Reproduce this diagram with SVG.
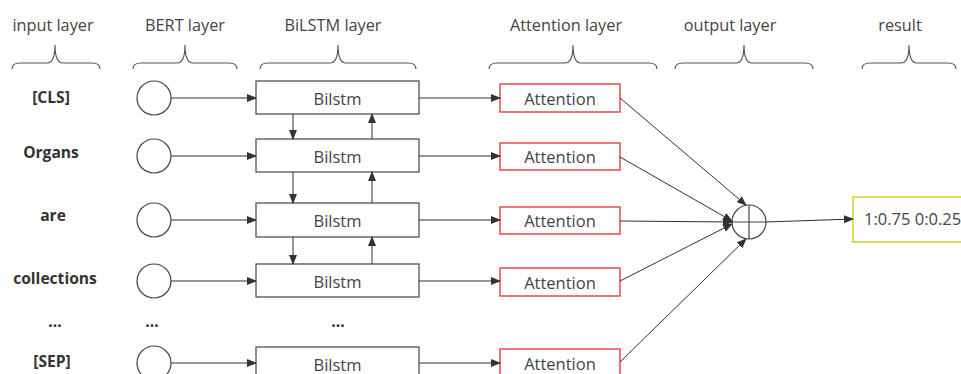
<svg xmlns="http://www.w3.org/2000/svg" width="961" height="374" viewBox="0 0 961 374">
<defs>
<marker id="ah" markerWidth="10" markerHeight="8" refX="9" refY="4" orient="auto" markerUnits="userSpaceOnUse">
<path d="M0,0 L10,4 L0,8 Z" fill="#333"/>
</marker>
<style>
.hdr{font-family:"Open Sans","Noto Sans",sans-serif;font-size:16.3px;fill:#444;text-anchor:middle}
.lbl{font-family:"Open Sans","Noto Sans",sans-serif;font-size:15.6px;font-weight:bold;fill:#333;text-anchor:middle}
.txt{font-family:"Open Sans","Noto Sans",sans-serif;font-size:16.5px;fill:#444;text-anchor:middle;dominant-baseline:central}
.brace{fill:none;stroke:#555;stroke-width:1.2}
.circ{fill:#fff;stroke:#444;stroke-width:1.2}
.box{fill:#fff;stroke:#444;stroke-width:1.2}
.att{fill:#fff;stroke:#e85555;stroke-width:1.6}
.res{fill:#fff;stroke:#d4d43a;stroke-width:1.6}
.cn{fill:none;stroke:#333;stroke-width:1;marker-end:url(#ah)}
</style>
</defs>
<rect width="961" height="374" fill="#fff"/>
<g id="headers">
<text class="hdr" x="53" y="31">input layer</text>
<text class="hdr" x="185" y="31">BERT layer</text>
<text class="hdr" x="333" y="31">BiLSTM layer</text>
<text class="hdr" x="566" y="31">Attention layer</text>
<text class="hdr" x="730" y="31">output layer</text>
<text class="hdr" x="900" y="31">result</text>
<path class="brace" d="M12,69 Q12,63 20,63 L47,63 Q55,63 55,45 Q55,63 63,63 L92,63 Q100,63 100,69"/>
<path class="brace" d="M133,69 Q133,63 141,63 L177,63 Q185,63 185,45 Q185,63 193,63 L229,63 Q237,63 237,69"/>
<path class="brace" d="M260,69 Q260,63 268,63 L330,63 Q338,63 338,45 Q338,63 346,63 L408,63 Q416,63 416,69"/>
<path class="brace" d="M489,69 Q489,63 497,63 L565,63 Q573,63 573,45 Q573,63 581,63 L649,63 Q657,63 657,69"/>
<path class="brace" d="M675,69 Q675,63 683,63 L736,63 Q744,63 744,45 Q744,63 752,63 L805,63 Q813,63 813,69"/>
<path class="brace" d="M862,69 Q862,63 870,63 L901,63 Q909,63 909,45 Q909,63 917,63 L948,63 Q956,63 956,69"/>
</g>
<g id="inputs">
<text class="lbl" x="51" y="103">[CLS]</text>
<text class="lbl" x="51" y="158">Organs</text>
<text class="lbl" x="53" y="221">are</text>
<text class="lbl" x="55" y="284">collections</text>
<text class="lbl" x="55" y="327">...</text>
<text class="lbl" x="52" y="367">[SEP]</text>
<text class="lbl" x="152" y="327">...</text>
<text class="lbl" x="338" y="327">...</text>
</g>
<g id="bert">
<circle class="circ" cx="154" cy="98" r="17"/>
<circle class="circ" cx="154" cy="156" r="17"/>
<circle class="circ" cx="154" cy="220" r="17"/>
<circle class="circ" cx="154" cy="281" r="17"/>
<circle class="circ" cx="154" cy="363" r="17"/>
</g>
<g id="bilstm">
<rect class="box" x="256" y="81" width="163" height="33"/><text class="txt" x="337.5" y="98">Bilstm</text>
<rect class="box" x="256" y="139" width="163" height="33"/><text class="txt" x="337.5" y="156">Bilstm</text>
<rect class="box" x="256" y="203" width="163" height="34"/><text class="txt" x="337.5" y="220">Bilstm</text>
<rect class="box" x="256" y="264" width="163" height="33"/><text class="txt" x="337.5" y="281">Bilstm</text>
<rect class="box" x="256" y="347" width="163" height="34"/><text class="txt" x="337.5" y="364">Bilstm</text>
</g>
<g id="attention">
<rect class="att" x="500" y="84" width="120" height="28"/><text class="txt" x="560" y="98">Attention</text>
<rect class="att" x="500" y="143" width="120" height="27"/><text class="txt" x="560" y="156.5">Attention</text>
<rect class="att" x="500" y="207" width="120" height="27"/><text class="txt" x="560" y="220.5">Attention</text>
<rect class="att" x="500" y="268" width="120" height="28"/><text class="txt" x="560" y="282">Attention</text>
<rect class="att" x="500" y="349" width="120" height="28"/><text class="txt" x="560" y="363">Attention</text>
</g>
<g id="sum">
<circle class="circ" cx="749" cy="222" r="17"/>
<line x1="749" y1="205" x2="749" y2="239" stroke="#444" stroke-width="1.2"/>
<line x1="732" y1="222" x2="766" y2="222" stroke="#444" stroke-width="1.2"/>
</g>
<g id="result">
<rect class="res" x="853" y="197" width="120" height="45"/>
<text x="864" y="225" font-family="Open Sans, Noto Sans, sans-serif" font-size="16.5" fill="#444">1:0.75 0:0.25</text>
</g>
<g id="connectors">
<line class="cn" x1="171" y1="98" x2="256" y2="98"/>
<line class="cn" x1="171" y1="156" x2="256" y2="156"/>
<line class="cn" x1="171" y1="220" x2="256" y2="220"/>
<line class="cn" x1="171" y1="281" x2="256" y2="281"/>
<line class="cn" x1="171" y1="363" x2="256" y2="363"/>
<line class="cn" x1="293" y1="114" x2="293" y2="139"/>
<line class="cn" x1="372" y1="139" x2="372" y2="114"/>
<line class="cn" x1="293" y1="172" x2="293" y2="203"/>
<line class="cn" x1="372" y1="203" x2="372" y2="172"/>
<line class="cn" x1="293" y1="237" x2="293" y2="264"/>
<line class="cn" x1="372" y1="264" x2="372" y2="237"/>
<line class="cn" x1="419" y1="98" x2="500" y2="98"/>
<line class="cn" x1="419" y1="156" x2="500" y2="156"/>
<line class="cn" x1="419" y1="220" x2="500" y2="220"/>
<line class="cn" x1="419" y1="281" x2="500" y2="281"/>
<line class="cn" x1="419" y1="363" x2="500" y2="363"/>
<line class="cn" x1="620" y1="98" x2="746" y2="205"/>
<line class="cn" x1="620" y1="157" x2="732" y2="221"/>
<line class="cn" x1="620" y1="221" x2="732" y2="222"/>
<line class="cn" x1="620" y1="281" x2="732" y2="224"/>
<line class="cn" x1="620" y1="362" x2="746" y2="239"/>
<line class="cn" x1="766" y1="222" x2="853" y2="219"/>
</g>
</svg>
